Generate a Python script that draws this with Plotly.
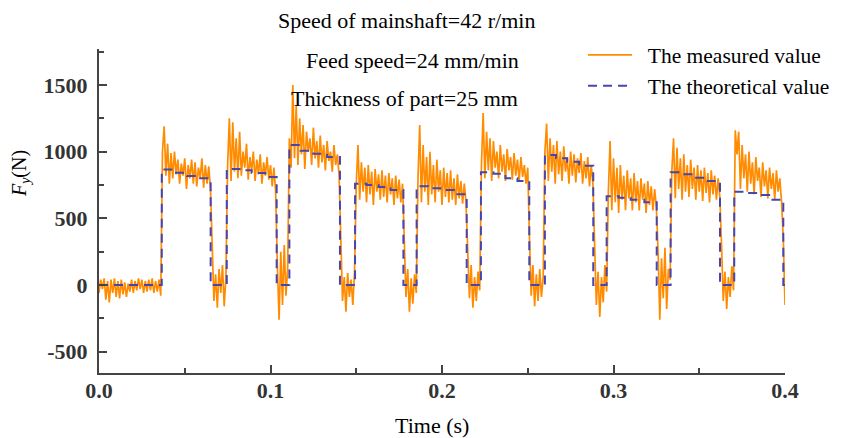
import numpy as np
import plotly.graph_objects as go

# measured force, sampled every 1 ms from 0 to 0.4 s (one list per cut / gap)
gap0 = [-60, 40, -30, 50, -110, 30, -130, 40, -60, 50, -90, 30, -100, 40, -70, 20, -90, 10, -50, 40,
        -60, 30, -40, 50, -30, 40, -60, 30, -50, 40, -40, 50, -60, 30, -50, 40, -80]
cut1 = [1000, 1190, 820, 1060, 760, 990, 800, 1000, 830, 940, 760, 910, 820, 950, 720, 900, 800, 940, 760, 920,
        740, 880, 800, 950, 730, 900, 760, 890, 720]
gap1 = [300, -120, 80, -170, 120, -60, 150, -160, 60]
cut2 = [900, 1250, 780, 1220, 850, 1100, 800, 1150, 820, 1000, 880, 1060, 790, 960, 850, 1000, 780, 940, 830, 980,
        760, 920, 820, 960, 790, 900, 740, 880, 700]
gap2 = [150, -260, 250, -150, 300, -80, 120]
cut3 = [1100, 880, 1500, 950, 1350, 900, 1250, 980, 1200, 870, 1150, 1000, 1100, 900, 1180, 950, 1080, 880, 1120, 920,
        1050, 860, 1080, 930, 1000, 850, 1050, 900, 980, 820]
gap3 = [400, -120, 60, -200, 90, -90, 40, -150, 100]
cut4 = [750, 1050, 640, 920, 700, 880, 620, 900, 680, 850, 600, 870, 700, 830, 640, 860, 660, 820, 620, 840,
        680, 800, 600, 820, 650, 790, 620, 760]
gap4 = [300, -90, 120, -200, 50, -140, 80, -60]
cut5 = [800, 1200, 620, 1050, 700, 960, 600, 1000, 680, 900, 620, 940, 700, 860, 600, 880, 660, 840, 620, 860,
        640, 800, 600, 830, 650, 780, 610, 760, 620]
gap5 = [250, -100, 150, -170, 60, -120, 100, -40]
cut6 = [900, 1290, 800, 1150, 860, 1100, 780, 1080, 880, 1000, 800, 1050, 850, 980, 780, 1020, 860, 960, 790, 990,
        820, 940, 780, 960, 810, 900, 760, 880]
gap6 = [350, -80, 150, -160, 80, -120, 120, -90, 60]
cut7 = [1000, 1210, 780, 1100, 850, 1050, 760, 1080, 830, 1000, 780, 1040, 850, 960, 760, 1000, 820, 980, 770, 950,
        840, 990, 760, 930, 800, 960, 740, 900, 760]
gap7 = [300, -150, 100, -240, 60, -130, 150, -50]
cut8 = [700, 1080, 560, 950, 620, 880, 540, 900, 640, 820, 560, 860, 650, 800, 560, 840, 620, 780, 560, 800,
        640, 760, 540, 780, 600, 740, 560, 720, 580]
gap8 = [250, -260, 200, -100, 280, -180, 120, 40]
cut9 = [850, 1100, 650, 1030, 720, 950, 640, 980, 700, 900, 660, 940, 720, 880, 640, 900, 700, 860, 630, 880,
        690, 840, 620, 860, 680, 820, 640, 800, 660]
gap9 = [300, -120, 100, -180, 60, -90, 140, -40]
cut10 = [1160, 980, 1150, 720, 1050, 800, 980, 700, 1000, 760, 920, 680, 960, 780, 880, 660, 920, 740, 860, 650,
         880, 720, 840, 640, 860, 700, 800, 620, 350]
tail = [-150]

# theoretical force (step changes)
theo_t = [0, 0.0366, 0.0449, 0.0513, 0.0590, 0.0651,
          0.0745, 0.082, 0.089, 0.097, 0.1036,
          0.1110, 0.1175, 0.125, 0.133, 0.1405,
          0.1493, 0.156, 0.163, 0.170, 0.1775,
          0.1852, 0.192, 0.199, 0.207, 0.2144,
          0.2227, 0.230, 0.237, 0.244, 0.2509,
          0.2600, 0.2665, 0.273, 0.280, 0.2882,
          0.2960, 0.303, 0.310, 0.318, 0.3252,
          0.3333, 0.340, 0.347, 0.355, 0.3621,
          0.3704, 0.377, 0.384, 0.392, 0.3990, 0.4]
theo_f = [0, 867, 842, 817, 800, 0,
          870, 860, 840, 810, 0,
          1050, 1007, 985, 960, 0,
          760, 750, 735, 712, 0,
          740, 725, 712, 680, 0,
          845, 835, 800, 780, 0,
          975, 950, 925, 895, 0,
          665, 655, 640, 620, 0,
          845, 830, 805, 780, 0,
          700, 690, 675, 640, 0, 0]

measured = (gap0 + cut1 + gap1 + cut2 + gap2 + cut3 + gap3 + cut4 + gap4 + cut5 + gap5
            + cut6 + gap6 + cut7 + gap7 + cut8 + gap8 + cut9 + gap9 + cut10 + tail)
assert len(measured) == 401, len(measured)
t = np.arange(401) * 0.001

serif = 'Liberation Serif'
nb = '\u00a0\u00a0'

fig = go.Figure()
fig.add_trace(go.Scatter(x=t, y=measured, mode='lines', name=nb + 'The measured value',
                         line=dict(color='#ff8c00', width=1.7), legendgroup='a'))
fig.add_trace(go.Scatter(x=theo_t, y=theo_f, mode='lines', name=nb + 'The theoretical value',
                         line=dict(color='#4646b0', width=2, dash='9px,6px', shape='hv'), legendgroup='b'))

axis_font = dict(family=serif, size=22, color='#333', weight='bold')
fig.update_layout(
    width=841, height=438,
    # the page body adds 8px, so the margins are shifted by that amount
    margin=dict(l=91, r=64, t=41, b=73, autoexpand=False),
    plot_bgcolor='white', paper_bgcolor='white',
    font=dict(family=serif, color='black'),
    xaxis=dict(
        range=[0, 0.4], tickmode='linear', tick0=0, dtick=0.1, tickformat='.1f',
        showline=True, linecolor='#444', linewidth=2, showgrid=False, zeroline=False,
        ticks='inside', ticklen=8, tickwidth=1.5, tickcolor='#444', tickfont=axis_font,
        ticklabelstandoff=-3,
        minor=dict(ticks='inside', ticklen=5, dtick=0.05, tick0=0, tickcolor='#444', showgrid=False),
    ),
    yaxis=dict(
        range=[-660, 1770],
        tickvals=[-500, 0, 500, 1000, 1500],
        ticktext=['-500', '0', '500', '1000', '1500'],
        showline=True, linecolor='#444', linewidth=2, showgrid=False, zeroline=False,
        ticks='inside', ticklen=8, tickwidth=1.5, tickcolor='#444', tickfont=axis_font,
        ticklabelstandoff=5,
        minor=dict(ticks='inside', ticklen=5, tickmode='linear', dtick=250, tick0=0, tickcolor='#444',
                   showgrid=False),
    ),
    legend=dict(
        x=0.7056, y=1.045, xanchor='left', yanchor='top',
        font=dict(family=serif, size=21.5, color='black'),
        bgcolor='rgba(0,0,0,0)', itemwidth=44, tracegroupgap=0,
    ),
)

txt = dict(family=serif, size=22, color='black')
notes = [('Speed of mainshaft=42 r/min', 0.4476, 1.0895),
         ('Feed speed=24 mm/min', 0.4577, 0.966),
         ('Thickness of part=25 mm', 0.446, 0.8457)]
for s, nx, ny in notes:
    fig.add_annotation(text=s, x=nx, y=ny, xref='paper', yref='paper', xanchor='center', yanchor='middle',
                       showarrow=False, font=txt)
fig.add_annotation(text='Time (s)', x=0.4854, y=-0.162, xref='paper', yref='paper',
                   xanchor='center', yanchor='middle', showarrow=False,
                   font=dict(family=serif, size=22, color='black'))
fig.add_annotation(text='<i>F</i><sub><i>y</i></sub>(N)', x=-0.1152, y=0.617, xref='paper', yref='paper',
                   xanchor='center', yanchor='middle', showarrow=False, textangle=-90,
                   font=dict(family=serif, size=20, color='black'))

fig.write_html("out.html")
